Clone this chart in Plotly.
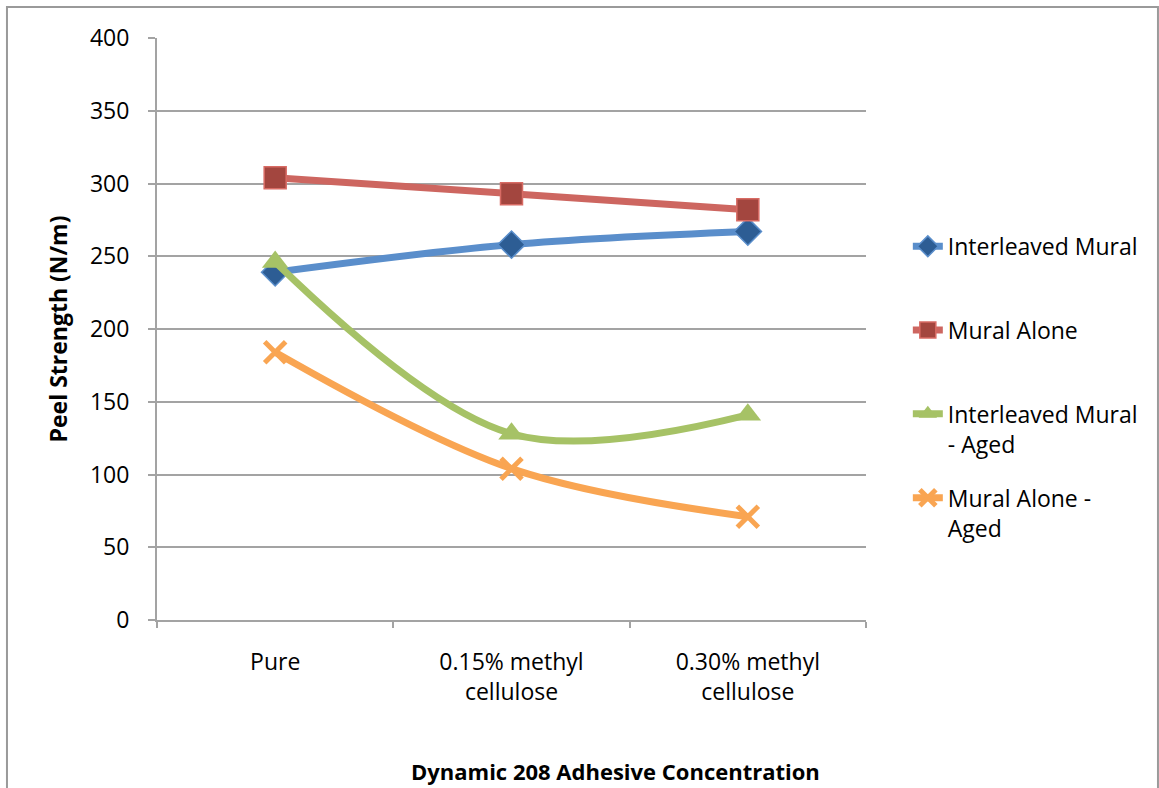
import plotly.graph_objects as go

# Peel strength by adhesive concentration
categories = ["Pure", "0.15% methyl<br>cellulose", "0.30% methyl<br>cellulose"]

interleaved_mural = [239, 258, 267]
mural_alone = [304, 293, 282]
interleaved_mural_aged = [246, 128, 141]
mural_alone_aged = [184, 104, 71]

series_names = [
    "Interleaved Mural<br> ",
    "Mural Alone<br> ",
    "Interleaved Mural<br>- Aged",
    "Mural Alone -<br>Aged",
]

FONT = "Open Sans"
GRID = "#a3a3a3"

styles = [
    dict(line=dict(color="#5a8ecb", width=7, shape="spline", smoothing=1),
         marker=dict(symbol="diamond", size=21, color="#2d5d94",
                     line=dict(color="#5a8ecb", width=1.5))),
    dict(line=dict(color="#cd6660", width=7, shape="spline", smoothing=1),
         marker=dict(symbol="square", size=22, color="#a3463f",
                     line=dict(color="#d86b64", width=1.5))),
    dict(line=dict(color="#a6c266", width=7, shape="spline", smoothing=1),
         marker=dict(symbol="triangle-up", size=23, color="#a6c266",
                     line=dict(color="#a6c266", width=0))),
    dict(line=dict(color="#f9a552", width=7, shape="spline", smoothing=1),
         marker=dict(symbol="x-thin", size=21, color="#f9a552",
                     line=dict(color="#f9a552", width=5))),
]

fig = go.Figure()
for i, (name, vals) in enumerate(zip(
        series_names,
        [interleaved_mural, mural_alone, interleaved_mural_aged, mural_alone_aged])):
    fig.add_trace(go.Scatter(
        x=categories, y=vals, name=name, mode="lines+markers",
        legendgroup=f"g{i}", **styles[i]))

fig.update_layout(
    width=1159, height=788,
    margin=dict(l=157, r=293, t=38, b=168),
    paper_bgcolor="white", plot_bgcolor="white",
    font=dict(family=FONT, size=23, color="black"),
    showlegend=True,
    legend=dict(
        x=1.059, xanchor="left", y=0.679, yanchor="top",
        valign="top", tracegroupgap=21,
        font=dict(family=FONT, size=23, color="black"),
        bgcolor="rgba(0,0,0,0)",
    ),
    xaxis=dict(
        type="category", range=[-0.5, 2.5],
        showline=True, linecolor=GRID, linewidth=2,
        ticks="outside", tickson="boundaries", ticklen=6,
        tickcolor=GRID, tickwidth=2,
        showgrid=False, zeroline=False,
        ticklabelstandoff=20,
    ),
    yaxis=dict(
        range=[0, 400], dtick=50, tick0=0,
        showline=True, linecolor=GRID, linewidth=2,
        ticks="outside", ticklen=7, tickcolor=GRID, tickwidth=2,
        showgrid=True, gridcolor=GRID, gridwidth=2,
        zeroline=False,
        ticklabelstandoff=14,
        title=dict(text="<b>Peel Strength (N/m)</b>",
                   font=dict(family=FONT, size=23), standoff=16),
    ),
    annotations=[dict(
        text="<b>Dynamic 208 Adhesive Concentration</b>",
        xref="paper", yref="paper", x=0.646, y=-0.2595,
        xanchor="center", yanchor="middle", showarrow=False,
        font=dict(family=FONT, size=22, color="black"),
    )],
    shapes=[dict(
        type="rect", xref="paper", yref="paper",
        x0=-0.2116, x1=1.4118, y0=-0.4, y1=1.0533,
        line=dict(color="#9a9a9a", width=2), fillcolor="rgba(0,0,0,0)",
        layer="below",
    )],
)

fig.write_html("out.html")
